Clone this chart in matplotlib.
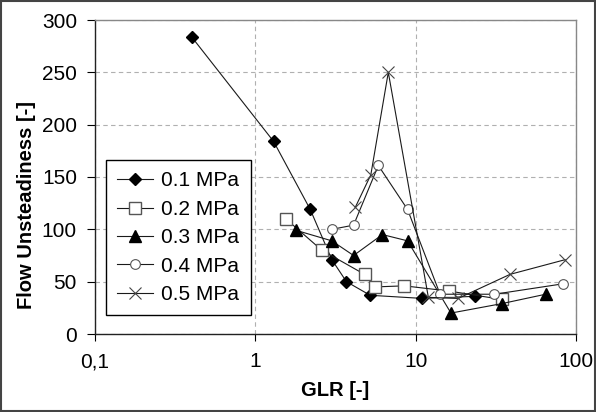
import matplotlib
matplotlib.use("Agg")
import matplotlib.pyplot as plt
from matplotlib.patches import Rectangle
from matplotlib.ticker import FixedLocator, FixedFormatter, NullLocator

plt.rcParams['font.family'] = ['Liberation Sans', 'DejaVu Sans']

# datos
glr_01 = [0.4, 1.3, 2.2, 3.0, 3.7, 5.2, 11.0, 23.5]
fu_01 = [284, 184, 119, 71, 50, 37, 34, 36]

glr_02 = [1.55, 2.6, 4.8, 5.6, 8.5, 16.2, 34.5]
fu_02 = [110, 80, 57, 45, 46, 41, 33]

glr_03 = [1.8, 3.0, 4.1, 6.2, 8.9, 16.6, 34.4, 64.7]
fu_03 = [99, 89, 75, 95, 89, 20, 29, 38]

glr_04 = [3.0, 4.1, 5.85, 8.9, 14.2, 31.0, 83.4]
fu_04 = [100, 104, 161, 119, 38, 38, 48]

glr_05 = [4.2, 5.25, 6.75, 12.0, 18.4, 38.8, 85.5]
fu_05 = [121, 152, 250, 35, 34, 57, 71]

labels = ['0.1 MPa', '0.2 MPa', '0.3 MPa', '0.4 MPa', '0.5 MPa']

fig = plt.figure(figsize=(5.96, 4.12), dpi=100)
ax = fig.add_axes([95/596, 1 - 334/412, 481/596, 314/412])

lc = '#1a1a1a'
ax.plot(glr_01, fu_01, color=lc, lw=0.8, marker='D', ms=6, mfc='black', mec='black', label=labels[0])
ax.plot(glr_02, fu_02, color=lc, lw=0.8, marker='s', ms=8, mfc='white', mec='#555555', mew=1, label=labels[1])
ax.plot(glr_03, fu_03, color=lc, lw=0.8, marker='^', ms=8.5, mfc='black', mec='black', label=labels[2])
ax.plot(glr_04, fu_04, color=lc, lw=0.8, marker='o', ms=7, mfc='white', mec='#555555', mew=0.8, label=labels[3])
ax.plot(glr_05, fu_05, color=lc, lw=0.8, marker='x', ms=8, mec='#444444', mew=0.8, label=labels[4])

ax.set_xscale('log')
ax.set_xlim(0.1, 100)
ax.set_ylim(0, 300)
ax.xaxis.set_major_locator(FixedLocator([0.1, 1, 10, 100]))
ax.xaxis.set_major_formatter(FixedFormatter(['0,1', '1', '10', '100']))
ax.xaxis.set_minor_locator(NullLocator())
ax.set_yticks([0, 50, 100, 150, 200, 250, 300])

ax.grid(True, color='#b0b0b0', ls=(0, (4, 3)), lw=0.8)
ax.set_axisbelow(True)

for s in ['left', 'bottom']:
    ax.spines[s].set_color('#222222')
    ax.spines[s].set_linewidth(1.0)
for s in ['top', 'right']:
    ax.spines[s].set_color('#888888')
    ax.spines[s].set_linewidth(1.0)

ax.tick_params(axis='y', direction='out', length=6, width=0.8, pad=7, labelsize=15, colors='black')
ax.tick_params(axis='x', direction='out', length=5, width=0.8, pad=8, labelsize=15, colors='black')

ax.set_xlabel('GLR [-]', fontsize=14.5, fontweight='bold')
ax.set_ylabel('Flow Unsteadiness [-]', fontsize=14.5, fontweight='bold')
ax.xaxis.set_label_coords(0.5, -0.15)
ax.yaxis.set_label_coords(-0.122, 0.41)

leg = ax.legend(loc='upper left', bbox_to_anchor=(11/481, (334 - 160)/314), fontsize=15,
                frameon=True, fancybox=False, edgecolor='black', framealpha=1,
                handlelength=1.7, handletextpad=0.4, labelspacing=0.45, borderpad=0.55,
                borderaxespad=0)
leg.get_frame().set_linewidth(1.0)

fig.patches.append(Rectangle((0.002, 0.003), 0.996, 0.994, transform=fig.transFigure,
                             fill=False, edgecolor='#444444', lw=1.5))

fig.savefig('out.png', dpi=100)
